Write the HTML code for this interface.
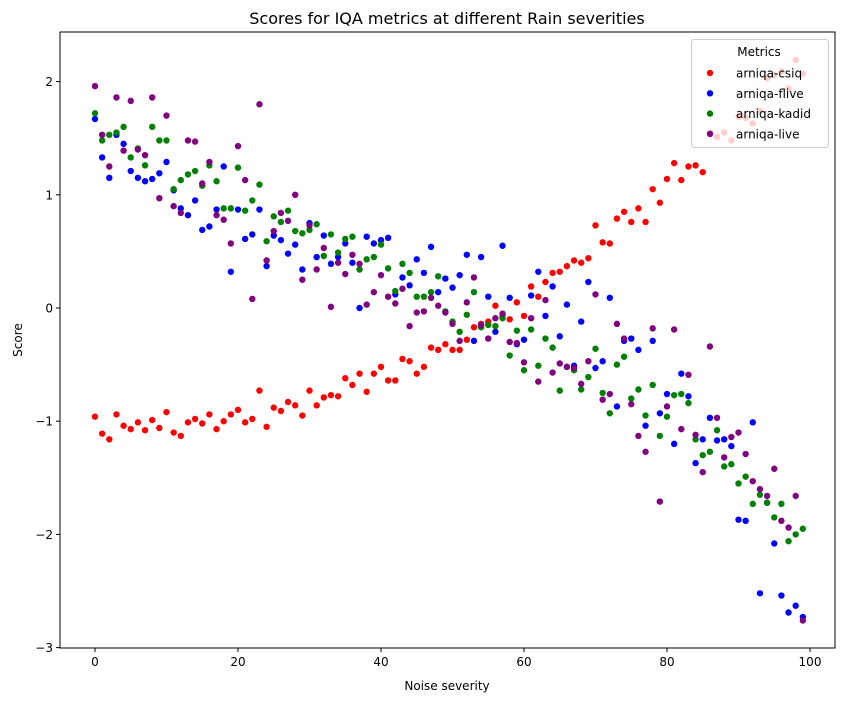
<!DOCTYPE html>
<html><head><meta charset="utf-8"><style>
html,body{margin:0;padding:0;background:#fff;}
svg{display:block;font-family:"DejaVu Sans","Liberation Sans",sans-serif;}
</style></head><body>
<svg id="chart" width="844" height="701" viewBox="0 0 844 701"></svg>
<script>
const xTicks=[0,20,40,60,80,100];
const yTicks=[-3,-2,-1,0,1,2];
const seriesNames=["arniqa-csiq","arniqa-flive","arniqa-kadid","arniqa-live"];
const seriesColors=["#ff0000","#0000ff","#008000","#800080"];
const csiq=[-0.96,-1.11,-1.16,-0.94,-1.04,-1.07,-1.01,-1.08,-0.99,-1.06,-0.92,-1.10,-1.13,-1.01,-0.98,-1.02,-0.94,-1.07,-1.00,-0.94,-0.90,-1.01,-0.98,-0.73,-1.05,-0.88,-0.91,-0.83,-0.86,-0.95,-0.73,-0.86,-0.79,-0.77,-0.78,-0.62,-0.68,-0.58,-0.74,-0.58,-0.52,-0.64,-0.64,-0.45,-0.47,-0.58,-0.52,-0.35,-0.37,-0.32,-0.37,-0.37,-0.28,-0.17,-0.14,-0.12,0.02,-0.07,-0.10,0.05,-0.07,0.19,0.10,0.23,0.31,0.32,0.37,0.42,0.40,0.44,0.73,0.58,0.57,0.79,0.85,0.76,0.88,0.76,1.05,0.93,1.14,1.28,1.13,1.25,1.26,1.20,1.55,1.51,1.55,1.48,1.69,1.68,1.63,1.74,2.03,2.06,2.09,1.94,2.19,2.07];
const flive=[1.67,1.33,1.15,1.53,1.45,1.21,1.15,1.12,1.14,1.19,1.29,1.04,0.88,0.82,0.95,0.69,0.72,0.87,1.25,0.32,0.87,0.61,0.65,0.87,0.37,0.64,0.60,0.48,0.56,0.34,0.75,0.45,0.64,0.39,0.45,0.57,0.40,0.00,0.63,0.57,0.60,0.62,0.12,0.27,0.20,0.43,0.31,0.54,0.14,0.26,0.18,0.29,0.47,-0.29,0.45,0.10,-0.21,0.55,0.09,-0.32,-0.28,0.11,0.32,-0.07,0.19,-0.25,0.03,-0.51,-0.12,0.23,-0.53,-0.47,0.09,-0.87,-0.29,-0.27,-0.37,-1.04,-0.29,-0.93,-0.76,-1.20,-0.58,-0.78,-1.37,-1.16,-0.97,-1.17,-1.16,-1.22,-1.87,-1.88,-1.01,-2.52,-1.72,-2.08,-2.54,-2.69,-2.63,-2.73];
const kadid=[1.72,1.48,1.53,1.55,1.60,1.33,1.41,1.26,1.60,1.48,1.48,1.05,1.13,1.18,1.21,1.08,1.26,1.12,0.88,0.88,1.24,0.86,0.95,1.09,0.59,0.81,0.76,0.86,0.68,0.66,0.69,0.74,0.46,0.65,0.49,0.61,0.63,0.34,0.43,0.45,0.56,0.35,0.15,0.39,0.31,0.10,0.10,0.14,0.28,-0.03,-0.12,-0.21,-0.06,0.14,-0.17,-0.15,-0.16,-0.09,-0.42,-0.20,-0.55,-0.19,-0.51,-0.27,-0.35,-0.73,-0.52,-0.55,-0.72,-0.61,-0.36,-0.75,-0.93,-0.50,-0.43,-0.80,-0.72,-0.95,-0.68,-1.13,-0.96,-0.77,-0.76,-0.84,-1.16,-1.30,-1.27,-1.08,-1.40,-1.38,-1.55,-1.49,-1.73,-1.65,-1.72,-1.85,-1.73,-2.06,-2.00,-1.95];
const live=[1.96,1.53,1.25,1.86,1.39,1.83,1.40,1.35,1.86,0.97,1.70,0.90,0.84,1.48,1.47,1.10,1.29,0.82,0.78,0.57,1.43,1.13,0.08,1.80,0.42,0.68,0.84,0.77,1.00,0.25,0.73,0.34,0.53,0.01,0.40,0.30,0.47,0.39,0.03,0.14,0.29,0.10,0.04,0.17,-0.16,-0.04,-0.03,0.09,0.02,-0.04,-0.14,-0.29,0.05,0.27,-0.15,-0.27,-0.09,-0.05,-0.30,-0.31,-0.48,-0.09,-0.65,0.07,-0.57,-0.49,-0.52,-0.53,-0.67,-0.47,0.12,-0.81,-0.76,-0.14,-0.27,-0.85,-1.13,-1.27,-0.18,-1.71,-0.87,-0.19,-1.07,-0.59,-1.12,-1.45,-0.34,-0.97,-1.32,-1.14,-1.10,-1.29,-1.53,-1.60,-1.66,-1.42,-1.88,-1.94,-1.66,-2.76];
const allSeries=[csiq,flive,kadid,live];
const NS="http://www.w3.org/2000/svg";
const svg=document.getElementById('chart');
const L=60,R=835,T=32,B=648;
function xs(v){return 95+7.15*v;}
function ys(v){return 308-113.2*v;}
function mk(tag,attrs,parent){const e=document.createElementNS(NS,tag);for(const k in attrs)e.setAttribute(k,attrs[k]);(parent||svg).appendChild(e);return e;}
const title=mk('text',{x:447,y:24,'text-anchor':'middle','font-size':'16','fill':'#000'});
title.textContent='Scores for IQA metrics at different Rain severities';


const pts=mk('g',{});


for(let s=0;s<allSeries.length;s++){
  const g=mk('g',{fill:seriesColors[s]},pts);
  
  
  allSeries[s].forEach((v,i)=>{
    const c=mk('circle',{cx:xs(i),cy:ys(v),r:3.2},g);
    
    
  });
}
const frame=mk('rect',{x:L,y:T,width:R-L,height:B-T,fill:'none',stroke:'#000','stroke-width':1});


xTicks.forEach(t=>{
  const x=xs(t);
  const ln=mk('line',{x1:x,x2:x,y1:B,y2:B+4,stroke:'#000'});
  
  
  const tx=mk('text',{x:x,y:B+18,'text-anchor':'middle','font-size':'12'});
  tx.textContent=String(t);
  
  
});
yTicks.forEach(t=>{
  const y=ys(t);
  const ln=mk('line',{x1:L-4,x2:L,y1:y,y2:y,stroke:'#000'});
  
  
  const tx=mk('text',{x:L-7,y:y+4.5,'text-anchor':'end','font-size':'12'});
  tx.textContent=(t<0?'\u2212':'')+Math.abs(t);
  
  
});
const xl=mk('text',{x:447,y:690,'text-anchor':'middle','font-size':'12'});
xl.textContent='Noise severity';


const yl=mk('text',{x:22,y:340,'text-anchor':'middle','font-size':'12',transform:'rotate(-90 22 340)'});
yl.textContent='Score';


const lg=mk('g',{});


const lb=mk('rect',{x:691.5,y:39.5,width:137,height:108,rx:3,fill:'#fff','fill-opacity':0.8,stroke:'#ccc'},lg);


const lt=mk('text',{x:759,y:56,'text-anchor':'middle','font-size':'12'},lg);
lt.textContent='Metrics';


seriesNames.forEach((n,i)=>{
  const y=73+i*20.3;
  const c=mk('circle',{cx:710,cy:y,r:3.2,fill:seriesColors[i]},lg);
  
  
  const t=mk('text',{x:736,y:y+4.5,'font-size':'12'},lg);
  t.textContent=n;
  
  
});
</script>
</body></html>
